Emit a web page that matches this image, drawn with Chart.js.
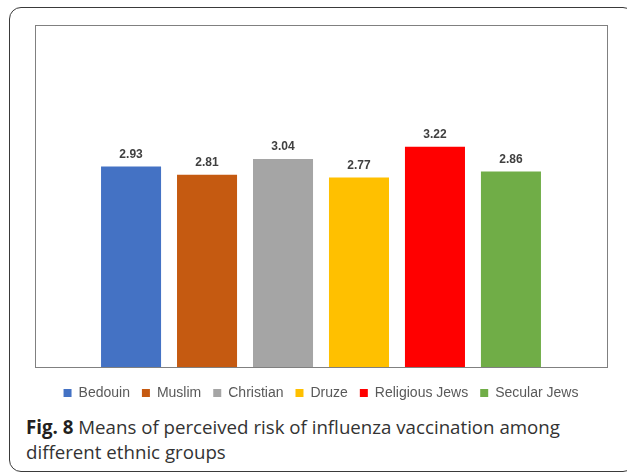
<!DOCTYPE html>
<html>
<head>
<meta charset="utf-8">
<script src="https://cdn.jsdelivr.net/npm/chart.js@4"></script>
<style>
  html, body { margin: 0; padding: 0; background: #fff; }
  body { width: 627px; height: 472px; position: relative; overflow: hidden; }
  .frame {
    position: absolute; left: 9px; top: 7px; width: 626px; height: 465px;
    box-sizing: border-box; border: 1.5px solid #3a3a3a; border-radius: 12px;
  }
  .plot { position: absolute; left: 0; top: 0; width: 627px; height: 410px; }
  .caption {
    position: absolute; left: 26px; top: 414px; width: 560px;
    font-family: "Open Sans", sans-serif; font-size: 18.7px; line-height: 25px;
    color: #333333; white-space: nowrap;
  }
  .caption b { font-weight: 700; color: #231f20; }
</style>
</head>
<body>
<div class="frame"></div>
<div class="plot"><canvas id="chart"></canvas></div>
<div class="caption"><b>Fig. 8</b> Means of perceived risk of influenza vaccination among<br>different ethnic groups</div>
<script>
// Ethnic groups and their mean perceived risk scores
const groups = ['Bedouin', 'Muslim', 'Christian', 'Druze', 'Religious Jews', 'Secular Jews'];
const means = [2.93, 2.81, 3.04, 2.77, 3.22, 2.86];
const groupColors = ['#4472c4', '#c55a11', '#a5a5a5', '#ffc000', '#ff0000', '#70ad47'];
const yMin = 0;
const yMax = 5;

// One dataset per group so each gets its own legend entry
const datasets = groups.map((g, i) => ({
  label: g,
  data: [means[i]],
  backgroundColor: groupColors[i],
  borderWidth: 0,
  categoryPercentage: 0.797,
  barPercentage: 0.79
}));

// Frame around the plotting area
const plotFrame = {
  id: 'plotFrame',
  afterDraw(chart) {
    const { ctx, chartArea: a } = chart;
    ctx.save();
    ctx.strokeStyle = '#808080';
    ctx.lineWidth = 1;
    ctx.strokeRect(Math.round(a.left) + 0.5, Math.round(a.top) + 0.5,
                   Math.round(a.right - a.left), Math.round(a.bottom - a.top));
    ctx.restore();
  }
};

// Value written above each bar
const valueLabels = {
  id: 'valueLabels',
  afterDatasetsDraw(chart) {
    const { ctx } = chart;
    ctx.save();
    ctx.font = 'bold 12px "Liberation Sans", Arial, sans-serif';
    ctx.fillStyle = '#404040';
    ctx.textAlign = 'center';
    ctx.textBaseline = 'middle';
    chart.data.datasets.forEach((ds, di) => {
      const meta = chart.getDatasetMeta(di);
      meta.data.forEach((bar, j) => {
        ctx.fillText(ds.data[j].toFixed(2), bar.x, bar.y - 12);
      });
    });
    ctx.restore();
  }
};

new Chart(document.getElementById('chart'), {
  type: 'bar',
  data: { labels: [''], datasets },
  options: {
    responsive: true,
    maintainAspectRatio: false,
    animation: false,
    layout: { padding: { left: 35, right: 20, top: 25, bottom: 0 } },
    scales: {
      x: {
        display: true,
        grid: { display: false },
        border: { display: false },
        ticks: { display: false },
        afterFit(scale) { scale.height = 7; }
      },
      y: { display: false, min: yMin, max: yMax, grid: { display: false } }
    },
    plugins: {
      tooltip: { enabled: false },
      legend: {
        position: 'bottom',
        labels: {
          boxWidth: 8,
          boxHeight: 8,
          padding: 12,
          color: '#595959',
          font: { family: '"Liberation Sans", Arial, sans-serif', size: 14 }
        }
      }
    }
  },
  plugins: [plotFrame, valueLabels]
});
</script>
</body>
</html>
